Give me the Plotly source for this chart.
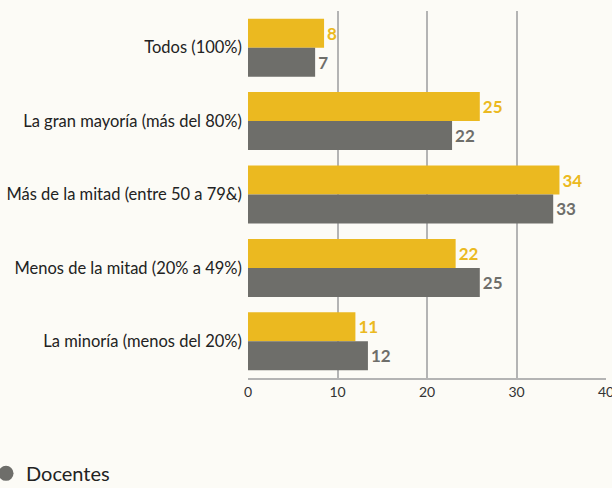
import plotly.graph_objects as go

categories = [
    "Todos (100%)",
    "La gran mayoría (más del 80%)",
    "Más de la mitad (entre 50 a 79&)",
    "Menos de la mitad (20% a 49%)",
    "La minoría (menos del 20%)",
]
serie_a_values = [8.5, 25.9, 34.8, 23.2, 12.0]
serie_a_labels = ["8", "25", "34", "22", "11"]
docentes_values = [7.5, 22.8, 34.1, 25.9, 13.4]
docentes_labels = ["7", "22", "33", "25", "12"]
x_ticks = [0, 10, 20, 30, 40]
grid_ticks = [10, 20, 30]

YELLOW = "#EBB920"
GRAY = "#6E6E6A"
BG = "#FCFBF6"
FONT = "Lato, 'Open Sans', sans-serif"

fig = go.Figure()
fig.add_trace(go.Bar(
    y=categories, x=serie_a_values, orientation="h",
    marker=dict(color=YELLOW, line=dict(width=0)),
    text=serie_a_labels, textposition="outside",
    textfont=dict(color=YELLOW, size=17, family=FONT, weight="bold"),
    cliponaxis=False, showlegend=False, name="",
))
fig.add_trace(go.Bar(
    y=categories, x=docentes_values, orientation="h",
    marker=dict(color=GRAY, line=dict(width=0)),
    text=docentes_labels, textposition="outside",
    textfont=dict(color=GRAY, size=17, family=FONT, weight="bold"),
    cliponaxis=False, showlegend=False, name="Docentes",
))
# legend entry (circle symbol) for Docentes
fig.add_trace(go.Scatter(
    x=[None], y=[None], mode="markers", name="Docentes",
    marker=dict(color=GRAY, size=15, symbol="circle"),
    showlegend=True,
))

fig.update_layout(
    width=612, height=488,
    paper_bgcolor=BG, plot_bgcolor=BG,
    margin=dict(l=248, r=6, t=11, b=110),
    barmode="group", bargap=0.21, bargroupgap=0,
    font=dict(family=FONT, color="#222222", size=16),
    showlegend=True,
    legend=dict(
        orientation="h", xref="container", yref="container",
        x=0, xanchor="left", y=0.07, yanchor="top",
        indentation=-14,
        font=dict(size=20, color="#222222", family=FONT),
        itemsizing="trace", bgcolor="rgba(0,0,0,0)",
        itemwidth=30,
    ),
    xaxis=dict(
        range=[0, 40], tickvals=x_ticks,
        showgrid=False,
        minor=dict(tickmode="array", tickvals=grid_ticks, showgrid=True,
                   gridcolor="#B4B4B4", gridwidth=2, ticks=""),
        zeroline=False, showline=True, linecolor="#B4B4B4", linewidth=2,
        ticks="", tickfont=dict(size=14, color="#333333"),
        ticklabeloverflow="allow", automargin=False,
    ),
    yaxis=dict(
        autorange="reversed", showgrid=False, zeroline=False,
        ticks="", tickfont=dict(size=16.5, color="#222222"),
        ticklabelstandoff=5, automargin=False,
    ),
)

fig.write_html(
    "out.html",
    config={"displayModeBar": False},
    post_script=(
        "document.body.style.margin='0';"
        "document.body.style.background='" + BG + "';"
        "document.body.style.overflow='hidden';"
    ),
)
